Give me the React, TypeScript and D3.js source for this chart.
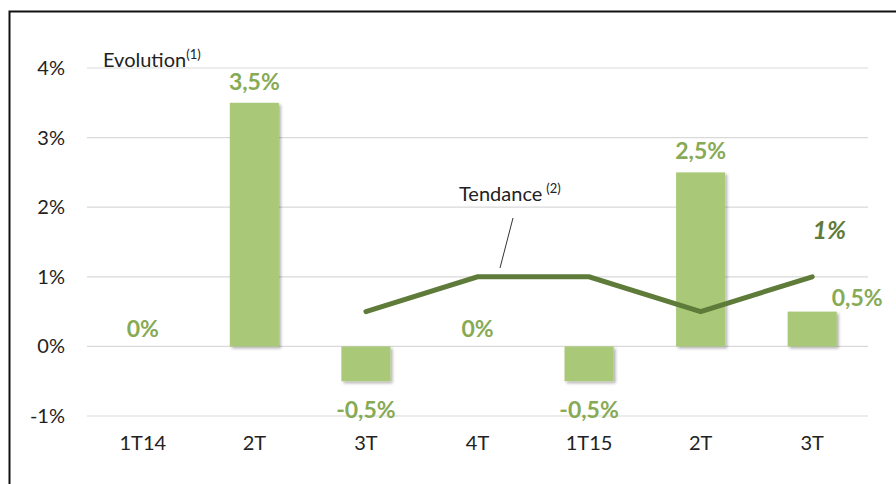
import React from 'react';
import * as d3 from 'd3';

const categories = ['1T14', '2T', '3T', '4T', '1T15', '2T', '3T'];
const evolution = [0, 3.5, -0.5, 0, -0.5, 2.5, 0.5];
const evolutionLabels = ['0%', '3,5%', '-0,5%', '0%', '-0,5%', '2,5%', '0,5%'];
const trend = [null, null, 0.5, 1, 1, 0.5, 1];
const yTicks = [-1, 0, 1, 2, 3, 4];

const width = 896;
const height = 484;
const margin = { top: 68, right: 28, bottom: 68, left: 87 };

const barColor = '#a9c979';
const labelColor = '#87aa55';
const lineColor = '#5f7b3a';
const font = 'Lato, "Open Sans", sans-serif';

const App = () => {
  const x = d3.scaleBand()
    .domain(categories.map((_, i) => String(i)))
    .range([margin.left, width - margin.right])
    .paddingInner(0.56)
    .paddingOuter(0.28);

  const y = d3.scaleLinear()
    .domain([-1, 4])
    .range([height - margin.bottom, margin.top]);

  const cx = (i) => x(String(i)) + x.bandwidth() / 2;

  const line = d3.line()
    .defined(d => d.v !== null)
    .x(d => cx(d.i))
    .y(d => y(d.v));

  const trendPts = trend.map((v, i) => ({ v, i }));

  // label placement: above positive bars, below negative
  const labelY = (v) => {
    if (v > 0) return y(v) - 13;
    if (v < 0) return y(v) + 37;
    return y(0) - 9;
  };

  return (
    <svg width={width} height={height} style={{ position: 'absolute', left: 0, top: 0 }}>
      <defs>
        <filter id="shadow" x="-20%" y="-20%" width="150%" height="150%">
          <feDropShadow dx="2" dy="2" stdDeviation="1.5" floodColor="#000" floodOpacity="0.3" />
        </filter>
      </defs>
      <rect x={0} y={0} width={width} height={height} fill="#fff" />
      <path d={`M9.5,${height} V11.5 H${width}`} fill="none" stroke="#111" strokeWidth={2} />

      {yTicks.map(t => (
        <g key={t}>
          <line x1={margin.left} x2={width - margin.right} y1={y(t)} y2={y(t)} stroke="#d9d9d9" strokeWidth={1.2} />
          <text x={65} y={y(t) + 7} textAnchor="end" fontFamily={font} fontSize={20} fill="#222">{`${t}%`}</text>
        </g>
      ))}

      {evolution.map((v, i) => v !== 0 && (
        <rect
          key={i}
          x={x(String(i))}
          y={Math.min(y(v), y(0))}
          width={x.bandwidth()}
          height={Math.abs(y(v) - y(0))}
          fill={barColor}
          filter="url(#shadow)"
        />
      ))}

      {evolution.map((v, i) => (
        <text
          key={i}
          x={i === 6 ? cx(i) + 45 : cx(i)}
          y={i === 6 ? y(v) - 6 : labelY(v)}
          textAnchor="middle"
          fontFamily={font}
          fontWeight="bold"
          fontSize={23}
          fill={labelColor}
        >{evolutionLabels[i]}</text>
      ))}

      <path d={line(trendPts)} fill="none" stroke={lineColor} strokeWidth={5} strokeLinecap="round" strokeLinejoin="miter" />

      <text x={cx(6) + 17} y={y(1) - 38} textAnchor="middle" fontFamily={font} fontWeight="bold" fontStyle="italic" fontSize={25} fill={lineColor}>1%</text>

      {categories.map((c, i) => (
        <text key={i} x={cx(i)} y={450} textAnchor="middle" fontFamily={font} fontSize={20} fill="#222">{c}</text>
      ))}

      <text x={103} y={67} fontFamily={font} fontSize={20} fill="#222">
        Evolution<tspan fontSize={13} dy={-8}>(1)</tspan>
      </text>

      <text x={459} y={201} fontFamily={font} fontSize={20} fill="#222">
        Tendance<tspan fontSize={13} dy={-8} dx={4}>(2)</tspan>
      </text>
      <line x1={513} y1={218} x2={500} y2={268} stroke="#333" strokeWidth={1} />
    </svg>
  );
};

export default App;
